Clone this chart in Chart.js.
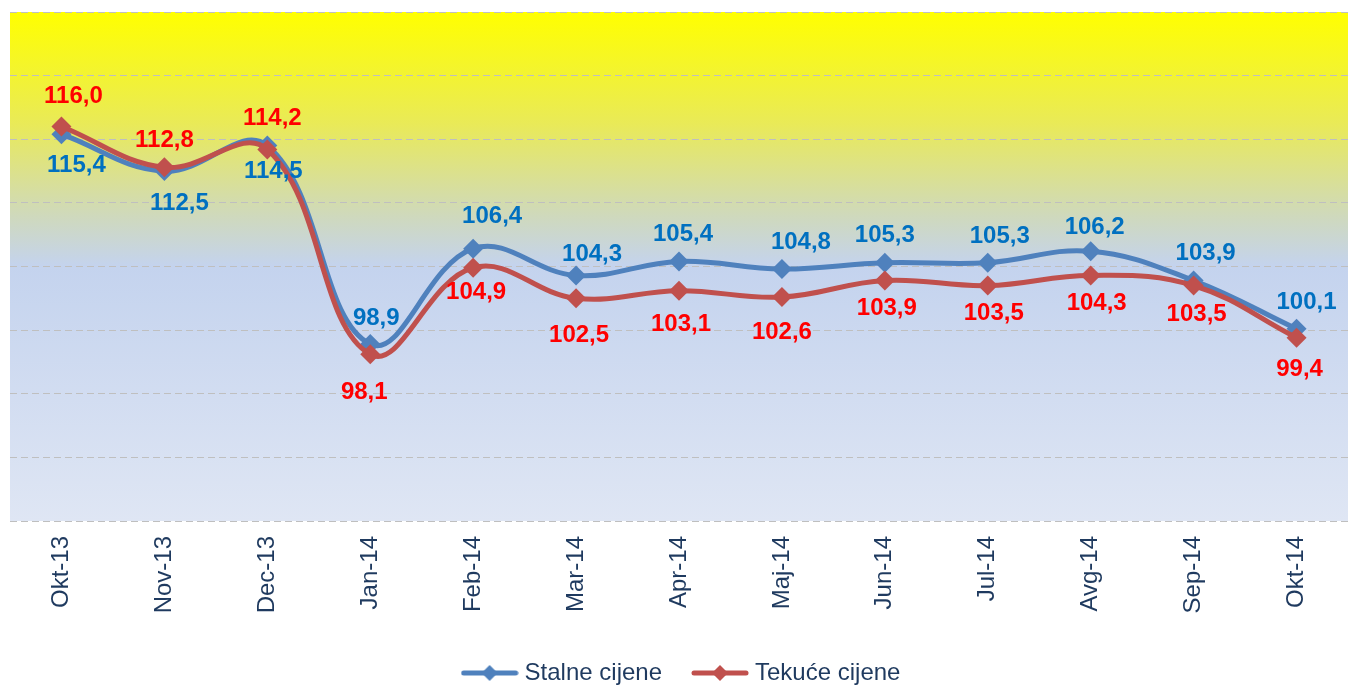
<!DOCTYPE html>
<html>
<head>
<meta charset="utf-8">
<script src="https://cdn.jsdelivr.net/npm/chart.js@4"></script>
<style>
  html, body { margin: 0; padding: 0; background: #fff; overflow: hidden; }
  #wrap { position: relative; width: 1358px; height: 686px; }
</style>
</head>
<body>
<div id="wrap"><canvas id="chart"></canvas></div>
<script>
const months = ['Okt-13', 'Nov-13', 'Dec-13', 'Jan-14', 'Feb-14', 'Mar-14', 'Apr-14',
                'Maj-14', 'Jun-14', 'Jul-14', 'Avg-14', 'Sep-14', 'Okt-14'];
const stalneCijene = [115.4, 112.5, 114.5, 98.9, 106.4, 104.3, 105.4, 104.8, 105.3, 105.3, 106.2, 103.9, 100.1];
const tekuceCijene = [116.0, 112.8, 114.2, 98.1, 104.9, 102.5, 103.1, 102.6, 103.9, 103.5, 104.3, 103.5, 99.4];
const seriesNames = ['Stalne cijene', 'Tekuće cijene'];

// label placement (pixels from the point)
const labelOffsets = [
    { dx: [15, 15, 6, 6, 19, 16, 4, 19, 0, 12, 4, 12, 10],
      dy: [31, 32, 26, -26, -32, -21, -27, -27, -27, -26, -24, -27, -26] },
    { dx: [12, 0, 5, -6, 3, 3, 2, 0, 2, 6, 6, 3, 3],
      dy: [-30, -27, -31, 38, 25, 37, 34, 35, 28, 28, 28, 29, 32] }
];
const labelColors = ['#0070C0', '#FF0000'];
const lineColors = ['#4F81BD', '#C0504D'];
const FONT = "'Liberation Sans', Arial, sans-serif";

function legendMarker(color) {
    const c = document.createElement('canvas');
    c.width = 58;
    c.height = 18;
    const g = c.getContext('2d');
    g.strokeStyle = color;
    g.lineWidth = 5;
    g.lineCap = 'round';
    g.beginPath();
    g.moveTo(3, 9);
    g.lineTo(55, 9);
    g.stroke();
    g.fillStyle = color;
    g.beginPath();
    g.moveTo(29, 1);
    g.lineTo(37, 9);
    g.lineTo(29, 17);
    g.lineTo(21, 9);
    g.closePath();
    g.fill();
    return c;
}

const backgroundPlugin = {
    id: 'areaGradient',
    beforeDraw(chart) {
        const { ctx, chartArea: a } = chart;
        const grad = ctx.createLinearGradient(0, a.top, 0, a.bottom);
        grad.addColorStop(0, '#FFFF00');
        grad.addColorStop(0.22, '#E9EA58');
        grad.addColorStop(0.4, '#CFD9BC');
        grad.addColorStop(0.5, '#C4D3EE');
        grad.addColorStop(1, '#DFE6F4');
        ctx.save();
        ctx.fillStyle = grad;
        ctx.fillRect(a.left, a.top, a.right - a.left, a.bottom - a.top);
        ctx.restore();
    }
};

const valueLabelPlugin = {
    id: 'valueLabels',
    afterDatasetsDraw(chart) {
        const ctx = chart.ctx;
        ctx.save();
        ctx.font = 'bold 24px ' + FONT;
        ctx.textAlign = 'center';
        ctx.textBaseline = 'middle';
        chart.data.datasets.forEach((ds, di) => {
            const meta = chart.getDatasetMeta(di);
            ctx.fillStyle = labelColors[di];
            meta.data.forEach((pt, i) => {
                const text = ds.data[i].toFixed(1).replace('.', ',');
                ctx.fillText(text, pt.x + labelOffsets[di].dx[i], pt.y + labelOffsets[di].dy[i]);
            });
        });
        ctx.restore();
    }
};

new Chart(document.getElementById('chart'), {
    type: 'line',
    data: {
        labels: months,
        datasets: [{
            label: seriesNames[0],
            data: stalneCijene,
            borderColor: lineColors[0],
            backgroundColor: lineColors[0],
            borderWidth: 5,
            pointStyle: 'rectRot',
            pointRadius: 10,
            pointBackgroundColor: lineColors[0],
            pointBorderColor: lineColors[0],
            pointBorderWidth: 0,
            tension: 0.4,
            order: 1,
            clip: false
        }, {
            label: seriesNames[1],
            data: tekuceCijene,
            borderColor: lineColors[1],
            backgroundColor: lineColors[1],
            borderWidth: 5,
            pointStyle: 'rectRot',
            pointRadius: 10,
            pointBackgroundColor: lineColors[1],
            pointBorderColor: lineColors[1],
            pointBorderWidth: 0,
            tension: 0.4,
            order: 0,
            clip: false
        }]
    },
    options: {
        responsive: true,
        maintainAspectRatio: false,
        animation: false,
        layout: { padding: { left: 10, top: 12, right: 1, bottom: -9 } },
        scales: {
            x: {
                offset: true,
                grid: { display: false, drawTicks: false },
                border: { display: false },
                ticks: {
                    minRotation: 90,
                    maxRotation: 90,
                    padding: 15,
                    color: '#1F3A5F',
                    font: { family: FONT, size: 24 }
                },
                afterFit(scale) { scale.height = 105; }
            },
            y: {
                min: 85,
                max: 125,
                ticks: { display: false, stepSize: 5 },
                grid: { color: '#BFBFBF', lineWidth: 1, drawTicks: false },
                border: { display: false, dash: [7, 4] },
                afterFit(scale) { scale.width = 0; }
            }
        },
        plugins: {
            legend: {
                position: 'bottom',
                labels: {
                    usePointStyle: true,
                    pointStyleWidth: 46,
                    padding: 35,
                    color: '#1F3A5F',
                    font: { family: FONT, size: 24 },
                    sort: (a, b) => a.datasetIndex - b.datasetIndex,
                    generateLabels(chart) {
                        return chart.data.datasets.map((ds, i) => ({
                            text: ds.label,
                            datasetIndex: i,
                            pointStyle: legendMarker(lineColors[i]),
                            fillStyle: lineColors[i],
                            strokeStyle: lineColors[i],
                            lineWidth: 0,
                            fontColor: '#1F3A5F',
                            hidden: false
                        }));
                    }
                }
            },
            tooltip: { enabled: false }
        }
    },
    plugins: [backgroundPlugin, valueLabelPlugin]
});
</script>
</body>
</html>
